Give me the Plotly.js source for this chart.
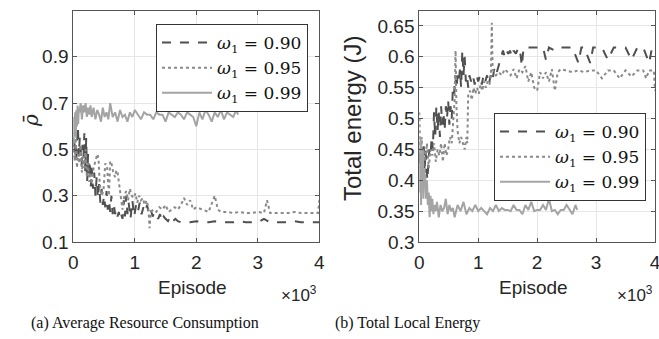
<!DOCTYPE html>
<html><head><meta charset="utf-8">
<script src="https://cdn.plot.ly/plotly-3.0.1.min.js"></script>
<style>html,body{margin:0;padding:0;background:#fff}#c{width:659px;height:339px}</style>
</head><body><div id="c"></div>
<script>
// ---- data (episodes, values) ----
const legendLabels = ['<i>ω</i><sub>1</sub> = 0.90', '<i>ω</i><sub>1</sub> = 0.95', '<i>ω</i><sub>1</sub> = 0.99'];
const xTicks = [0, 1000, 2000, 3000, 4000];
const xTickText = ['0', '1', '2', '3', '4'];
const leftYTicks = [0.1, 0.3, 0.5, 0.7, 0.9];
const rightYTicks = [0.3, 0.35, 0.4, 0.45, 0.5, 0.55, 0.6, 0.65];
const rightYTickText = ['0.3','0.35','0.4','0.45','0.5','0.55','0.6','0.65'];

// (a) average resource consumption
const L90_x = [0,15,30,45,60,75,90,105,120,135,
150,165,180,195,210,225,240,255,270,285,
300,320,340,360,380,400,420,440,460,480,
500,520,540,560,580,600,620,640,660,680,
700,720,740,760,780,800,820,840,860,880,
900,930,960,990,1020,1050,1080,1110,1140,1170,
1200,1230,1260,1290,1320,1350,1380,1410,1440,1470,
1500,1540,1580,1620,1660,1700,1750,1800,1900,2000,
2100,2200,2300,2400,2500,2600,2700,2800,2900,3000,
3100,3200,3300,3400,3500,3600,3700,3800,3900,4000];
const L90_y = [0.55,0.48,0.58,0.45,0.52,0.60,0.47,0.55,0.50,0.43,
0.52,0.46,0.57,0.40,0.55,0.36,0.48,0.38,0.45,0.34,
0.42,0.33,0.40,0.30,0.38,0.29,0.35,0.27,0.33,0.26,
0.30,0.25,0.32,0.24,0.28,0.23,0.30,0.22,0.26,0.22,
0.24,0.21,0.23,0.20,0.22,0.20,0.28,0.21,0.30,0.22,
0.27,0.20,0.28,0.21,0.26,0.23,0.27,0.22,0.25,0.23,
0.26,0.22,0.24,0.21,0.23,0.22,0.20,0.22,0.19,0.21,
0.20,0.19,0.21,0.19,0.20,0.19,0.185,0.185,0.185,0.19,
0.185,0.185,0.19,0.185,0.185,0.185,0.19,0.185,0.185,0.185,
0.20,0.185,0.185,0.185,0.185,0.19,0.185,0.185,0.185,0.185];

const L95_x = [0,20,40,60,80,100,120,140,160,180,
200,220,240,260,280,300,330,360,390,410,
430,460,490,520,550,580,600,620,650,680,
700,720,740,760,780,800,830,860,890,920,
950,980,1010,1040,1070,1100,1130,1160,1190,1220,
1240,1260,1300,1350,1400,1450,1500,1550,1600,1650,
1700,1750,1800,1850,1900,1950,2000,2100,2200,2300,
2350,2400,2500,2600,2700,2800,2900,3000,3100,3150,
3200,3300,3400,3500,3600,3700,3800,3900,3980,4000];
const L95_y = [0.50,0.45,0.55,0.42,0.48,0.44,0.52,0.40,0.47,0.42,
0.50,0.38,0.44,0.36,0.40,0.35,0.42,0.45,0.48,0.46,
0.35,0.30,0.32,0.44,0.42,0.30,0.45,0.44,0.40,0.38,
0.41,0.40,0.36,0.30,0.26,0.24,0.30,0.32,0.28,0.33,
0.30,0.29,0.31,0.27,0.30,0.28,0.29,0.26,0.28,0.25,
0.16,0.23,0.24,0.23,0.25,0.24,0.26,0.23,0.24,0.25,
0.24,0.26,0.29,0.26,0.28,0.24,0.25,0.24,0.23,0.30,
0.24,0.23,0.23,0.225,0.23,0.225,0.225,0.23,0.225,0.28,
0.225,0.225,0.225,0.225,0.23,0.225,0.225,0.225,0.225,0.28];

const L99_x = [0,10,20,30,40,50,60,70,80,90,
100,120,140,160,180,200,220,240,260,280,
300,330,360,390,420,450,480,510,540,570,
600,640,680,720,760,800,840,880,920,960,
1000,1050,1100,1150,1200,1250,1300,1350,1400,1450,
1500,1550,1600,1650,1700,1750,1800,1850,1900,1950,
2000,2050,2100,2150,2200,2250,2300,2350,2400,2450,
2500,2550,2600,2650,2680];
const L99_y = [0.52,0.64,0.58,0.66,0.55,0.67,0.60,0.69,0.61,0.68,
0.66,0.70,0.63,0.69,0.66,0.70,0.64,0.68,0.65,0.69,
0.64,0.68,0.63,0.67,0.65,0.62,0.68,0.64,0.66,0.63,
0.70,0.64,0.66,0.62,0.67,0.64,0.65,0.62,0.66,0.64,
0.67,0.65,0.63,0.66,0.65,0.65,0.63,0.66,0.65,0.65,
0.62,0.66,0.65,0.64,0.66,0.65,0.63,0.66,0.65,0.64,
0.60,0.66,0.63,0.67,0.65,0.62,0.66,0.64,0.67,0.63,
0.66,0.65,0.64,0.67,0.65];

// (b) total local energy
const R90_x = [0,15,30,45,60,75,90,105,120,135,
150,170,190,210,230,250,270,290,310,330,
350,370,390,410,430,450,470,490,510,530,
550,570,590,610,630,650,670,690,710,730,
750,770,790,810,830,850,880,910,940,970,
1000,1030,1060,1090,1120,1150,1180,1210,1240,1270,
1300,1330,1360,1390,1420,1450,1480,1510,1540,1570,
1600,1640,1680,1710,1740,1770,1800,1900,2000,2100,
2150,2200,2300,2400,2500,2600,2700,2750,2800,2900,
2950,3000,3100,3200,3300,3400,3500,3600,3700,3800,
3900,3950,4000];
const R90_y = [0.43,0.45,0.40,0.44,0.42,0.46,0.41,0.45,0.43,0.40,
0.42,0.45,0.44,0.47,0.45,0.51,0.47,0.52,0.48,0.51,
0.47,0.52,0.49,0.51,0.48,0.52,0.50,0.53,0.49,0.52,
0.50,0.55,0.54,0.57,0.55,0.57,0.56,0.58,0.55,0.61,
0.57,0.60,0.56,0.57,0.55,0.57,0.56,0.57,0.555,0.57,
0.56,0.57,0.555,0.57,0.56,0.57,0.555,0.57,0.56,0.58,
0.57,0.58,0.59,0.60,0.61,0.60,0.61,0.605,0.61,0.60,
0.61,0.605,0.615,0.61,0.585,0.615,0.615,0.615,0.615,0.615,
0.595,0.615,0.61,0.615,0.615,0.615,0.59,0.615,0.615,0.59,
0.615,0.615,0.615,0.595,0.615,0.615,0.615,0.595,0.615,0.615,
0.59,0.615,0.615];

const R95_x = [0,20,40,60,80,100,130,160,190,220,
250,280,310,340,370,400,430,460,490,520,
550,580,600,615,630,650,680,710,740,770,
800,815,830,860,890,920,950,980,1010,1040,
1070,1100,1130,1160,1190,1215,1230,1245,1270,1300,
1350,1400,1450,1500,1550,1600,1650,1700,1750,1800,
1850,1900,1950,2000,2050,2100,2150,2200,2250,2300,
2350,2400,2500,2600,2700,2800,2900,3000,3100,3200,
3300,3400,3500,3600,3700,3800,3850,3900,3980,4000];
const R95_y = [0.51,0.42,0.47,0.40,0.45,0.43,0.46,0.42,0.45,0.44,
0.46,0.43,0.45,0.44,0.46,0.43,0.46,0.44,0.45,0.47,
0.46,0.50,0.53,0.61,0.52,0.48,0.46,0.47,0.46,0.45,
0.47,0.46,0.54,0.545,0.53,0.55,0.54,0.55,0.54,0.555,
0.545,0.56,0.55,0.56,0.555,0.57,0.655,0.58,0.575,0.57,
0.575,0.57,0.58,0.575,0.57,0.58,0.565,0.58,0.575,0.585,
0.56,0.575,0.55,0.545,0.575,0.565,0.575,0.56,0.58,0.545,
0.575,0.58,0.578,0.575,0.578,0.575,0.578,0.578,0.565,0.578,
0.578,0.565,0.578,0.568,0.578,0.578,0.565,0.578,0.578,0.545];

const R99_x = [0,10,20,30,40,50,60,70,80,90,
100,115,130,145,160,175,190,205,220,240,
260,280,300,330,360,390,420,450,480,510,
540,570,600,650,700,750,800,850,900,950,
1000,1050,1100,1150,1200,1250,1300,1350,1400,1450,
1500,1550,1600,1650,1700,1750,1800,1850,1900,1950,
2000,2050,2100,2150,2200,2250,2300,2350,2400,2450,
2500,2550,2600,2650,2680];
const R99_y = [0.45,0.38,0.47,0.36,0.43,0.40,0.45,0.37,0.42,0.39,
0.41,0.37,0.40,0.36,0.38,0.34,0.375,0.35,0.37,0.345,
0.36,0.35,0.365,0.34,0.36,0.35,0.355,0.37,0.345,0.36,
0.35,0.355,0.34,0.36,0.35,0.365,0.345,0.355,0.35,0.36,
0.35,0.355,0.35,0.345,0.355,0.35,0.36,0.35,0.355,0.352,
0.352,0.35,0.36,0.352,0.352,0.345,0.36,0.352,0.365,0.35,
0.352,0.352,0.36,0.352,0.37,0.35,0.352,0.345,0.352,0.352,
0.36,0.352,0.345,0.36,0.352];

// ---- styles ----
const colors = ['#505050', '#8a8a8a', '#a4a4a4'];
const dashes = ['dash', 'dot', 'solid'];
const W = 659, H = 339;
const px = (v) => v / W, py = (v) => 1 - v / H;

function tr(x, y, i, xa, ya, leg) {
  return {x: x, y: y, type: 'scatter', mode: 'lines', name: legendLabels[i],
    xaxis: xa, yaxis: ya, legend: leg, showlegend: true,
    line: {color: colors[i], dash: dashes[i], width: 2}};
}
const data = [
  tr(L90_x, L90_y, 0, 'x', 'y', 'legend'),
  tr(L95_x, L95_y, 1, 'x', 'y', 'legend'),
  tr(L99_x, L99_y, 2, 'x', 'y', 'legend'),
  tr(R90_x, R90_y, 0, 'x2', 'y2', 'legend2'),
  tr(R95_x, R95_y, 1, 'x2', 'y2', 'legend2'),
  tr(R99_x, R99_y, 2, 'x2', 'y2', 'legend2')
];

const sans = 'Liberation Sans, Arial, sans-serif';
const tickFont = {family: sans, size: 19, color: '#262626'};
const axBase = {showline: true, linecolor: '#555555', linewidth: 1, mirror: 'ticks',
  ticks: 'inside', ticklen: 4, tickcolor: '#555555', showgrid: true, gridcolor: '#e6e6e6',
  gridwidth: 1, zeroline: false, tickfont: tickFont, fixedrange: true, ticklabeloverflow: 'allow'};

const yDom = [py(242), py(10.5)];
const legFont = {family: 'DejaVu Serif, Liberation Serif, serif', size: 17, color: '#111'};
function ann(x, y, text, font, extra) {
  return Object.assign({xref: 'paper', yref: 'paper', x: px(x), y: py(y), text: text, showarrow: false,
    xanchor: 'center', yanchor: 'middle', font: font}, extra || {});
}
const labFont = {family: sans, size: 19, color: '#262626'};
const capFont = {family: 'Liberation Serif, Times New Roman, serif', size: 16, color: '#111'};
const layout = {
  width: W, height: H, margin: {l: 0, r: 0, t: 0, b: 0}, paper_bgcolor: '#fff', plot_bgcolor: '#fff',
  showlegend: true,
  xaxis: Object.assign({}, axBase, {domain: [px(73.3), px(319.3)], range: [0, 4000], tickvals: xTicks, ticktext: xTickText, anchor: 'y', ticklabelstandoff: 3}),
  yaxis: Object.assign({}, axBase, {domain: yDom, range: [0.1, 1.1], tickvals: leftYTicks, tickformat: '.1f', anchor: 'x'}),
  xaxis2: Object.assign({}, axBase, {domain: [px(419.3), px(655)], range: [0, 4000], tickvals: xTicks, ticktext: xTickText, anchor: 'y2', ticklabelstandoff: 3}),
  yaxis2: Object.assign({}, axBase, {domain: yDom, range: [0.3, 0.675], tickvals: rightYTicks, ticktext: rightYTickText, anchor: 'x2'}),
  legend: {x: px(308), y: py(24), xanchor: 'right', yanchor: 'top', bgcolor: '#fff', bordercolor: '#333', borderwidth: 1,
    font: legFont, tracegroupgap: 0, itemwidth: 50},
  legend2: {x: px(646), y: py(113), xanchor: 'right', yanchor: 'top', bgcolor: '#fff', bordercolor: '#333', borderwidth: 1,
    font: legFont, tracegroupgap: 0, itemwidth: 50},
  annotations: [
    ann(192, 287, 'Episode', labFont),
    ann(533, 287, 'Episode', labFont),
    ann(319, 294, '×10<sup>3</sup>', {family: sans, size: 17, color: '#262626'}, {xanchor: 'right'}),
    ann(655, 294, '×10<sup>3</sup>', {family: sans, size: 17, color: '#262626'}, {xanchor: 'right'}),
    ann(31, 121, '<i>ρ̄</i>', {family: 'DejaVu Serif, serif', size: 20, color: '#262626'}, {textangle: -90}),
    ann(353, 119, 'Total energy (J)', {family: sans, size: 24, color: '#262626'}, {textangle: -90}),
    ann(145, 323, '(a) Average Resource Consumption', capFont),
    ann(407, 323, '(b) Total Local Energy', capFont)
  ]
};
Plotly.newPlot('c', data, layout, {staticPlot: true, displayModeBar: false});
</script></body></html>
